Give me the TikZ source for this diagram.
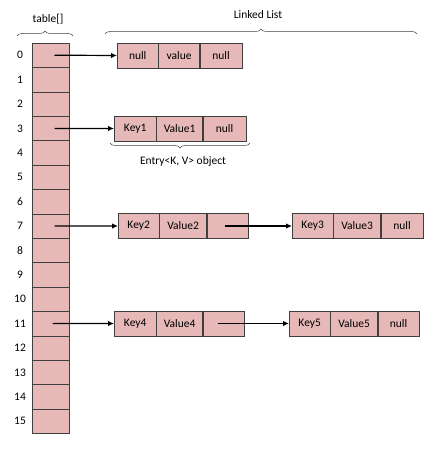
\documentclass[tikz,border=0pt]{standalone}
\usepackage{fontspec}
\setmainfont{Carlito}
\usetikzlibrary{positioning,arrows.meta,decorations.pathreplacing}
\definecolor{cellpink}{HTML}{E6B8B7}
\definecolor{celledge}{HTML}{3F3F3F}

\begin{document}
\begin{tikzpicture}[x=1pt,y=-1pt,
                font=\fontsize{11.5}{13}\selectfont,
                tcell/.style={draw=celledge,fill=cellpink,minimum width=37pt,
                  minimum height=24.4pt,inner sep=0pt},
                lcell/.style={draw=celledge,fill=cellpink,minimum height=25pt,
                  inner sep=0pt,minimum width=#1},
                lcell/.default=41pt,
                ptr/.style={-{Latex[length=6pt,width=5.5pt]},line width=1.2pt},
                brc/.style={decorate,decoration={brace,amplitude=5pt},
                  draw=celledge,line width=0.5pt}
                ]
                \useasboundingbox (0,0) rectangle (436,454);
                % the table
                \foreach \i in {0,...,15}{
                  \node[tcell] (t\i) at (50.5,55.2+\i*24.4) {};
                  \node (l\i) at (20,55.2+\i*24.4) {\i};
                }
                \node (tlab) at (48,19) {table[]};
                \draw[brc] (17,36) -- (73,36);
                % bucket 0
                \node[lcell,anchor=west] (k0) at (117,55.5) {null};
                \node[lcell,right=0pt of k0] (v0) {value};
                \node[lcell=42pt,right=0pt of v0] (n0) {null};
                % bucket 3
                \node[lcell=42pt,anchor=west] (k3) at (114,128.5) {Key1};
                \node[lcell=46pt,right=0pt of k3] (v3) {Value1};
                \node[lcell=43pt,right=0pt of v3] (n3) {null};
                % bucket 7
                \node[lcell,anchor=west] (k7) at (118,226) {Key2};
                \node[lcell=47pt,right=0pt of k7] (v7) {Value2};
                \node[lcell,right=0pt of v7] (n7) {};
                \node[lcell,anchor=west] (k7b) at (292,226) {Key3};
                \node[lcell=47pt,right=0pt of k7b] (v7b) {Value3};
                \node[lcell=42pt,right=0pt of v7b] (n7b) {null};
                % bucket 11
                \node[lcell=42pt,anchor=west] (k11) at (114,323.5) {Key4};
                \node[lcell=46pt,right=0pt of k11] (v11) {Value4};
                \node[lcell,right=0pt of v11] (n11) {};
                \node[lcell,anchor=west] (k11b) at (289,323.5) {Key5};
                \node[lcell=47pt,right=0pt of k11b] (v11b) {Value5};
                \node[lcell,right=0pt of v11b] (n11b) {null};
                % pointers
                \draw[ptr] ([xshift=4pt]t0.center) -- (k0.west);
                \draw[ptr] ([xshift=4pt]t3.center) -- (k3.west);
                \draw[ptr] ([xshift=4pt]t7.center) -- (k7.west);
                \draw[ptr] ([xshift=-3pt]n7.center) -- (k7b.west);
                \draw[ptr] ([xshift=2pt]t11.center) -- (k11.west);
                \draw[ptr] ([xshift=-6pt]n11.center) -- (k11b.west);
                % braces
                \draw[brc] (105,34) -- (417,34);
                \node (llab) at (258,15) {Linked List};
                \draw[brc] (250,143) -- (110,143);
                \node (elab) at (183,161) {Entry<K, V> object};
\end{tikzpicture}
\end{document}
